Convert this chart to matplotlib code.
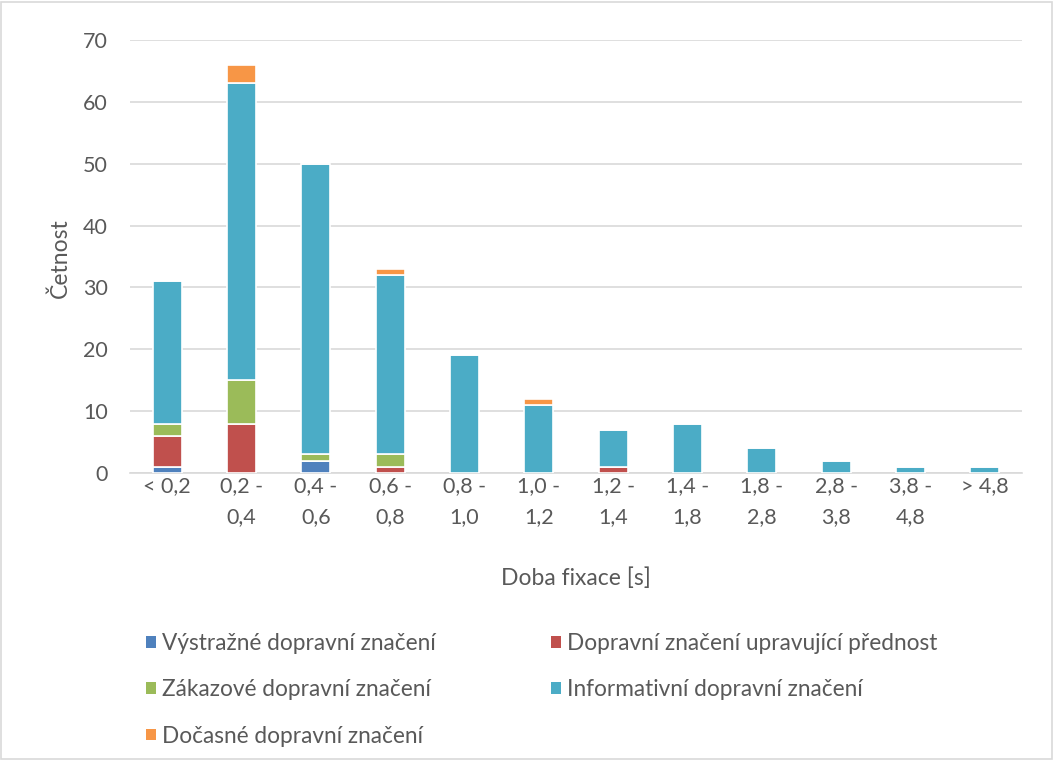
import matplotlib.pyplot as plt
import numpy as np
from matplotlib.patches import Rectangle, Patch

plt.rcParams['font.family'] = ['Lato', 'DejaVu Sans']

# categories (fixation duration bins)
categories = ['< 0,2', '0,2 -\n0,4', '0,4 -\n0,6', '0,6 -\n0,8', '0,8 -\n1,0', '1,0 -\n1,2',
              '1,2 -\n1,4', '1,4 -\n1,8', '1,8 -\n2,8', '2,8 -\n3,8', '3,8 -\n4,8', '> 4,8']

# counts per sign type
vystrazne = [1, 0, 2, 0, 0, 0, 0, 0, 0, 0, 0, 0]
prednost = [5, 8, 0, 1, 0, 0, 1, 0, 0, 0, 0, 0]
zakazove = [2, 7, 1, 2, 0, 0, 0, 0, 0, 0, 0, 0]
informativni = [23, 48, 47, 29, 19, 11, 6, 8, 4, 2, 1, 1]
docasne = [0, 3, 0, 1, 0, 1, 0, 0, 0, 0, 0, 0]

series = [
    ('Výstražné dopravní značení', vystrazne, '#4F81BD'),
    ('Dopravní značení upravující přednost', prednost, '#C0504D'),
    ('Zákazové dopravní značení', zakazove, '#9BBB59'),
    ('Informativní dopravní značení', informativni, '#4BACC6'),
    ('Dočasné dopravní značení', docasne, '#F79646'),
]

txt = '#595959'
fig = plt.figure(figsize=(10.54, 7.6), dpi=100)
ax = fig.add_axes([130 / 1054, 1 - 473 / 760, 892 / 1054, 433 / 760])

x = np.arange(len(categories))
bottom = np.zeros(len(categories))
handles = {}
for name, vals, col in series:
    vals = np.array(vals, dtype=float)
    ax.bar(x, vals, 0.39, bottom=bottom, color=col, edgecolor='white', linewidth=1.2, zorder=3)
    handles[name] = Patch(facecolor=col, edgecolor='none')
    bottom += vals

ax.set_xlim(-0.5, len(categories) - 0.5)
ax.set_ylim(0, 70)
ax.set_yticks(range(0, 71, 10))
ax.set_xticks(x)
ax.set_xticklabels(categories, linespacing=1.72)
ax.tick_params(length=0, labelsize=15.5, colors=txt, pad=2)
ax.tick_params(axis='y', pad=16)
ax.grid(axis='y', color='#D9D9D9', linewidth=1.2, zorder=0)
for s in ['top', 'right', 'left']:
    ax.spines[s].set_visible(False)
ax.spines['bottom'].set_color('#D9D9D9')
ax.spines['bottom'].set_linewidth(1.2)

ax.set_xlabel('Doba fixace [s]', fontsize=16.5, color=txt)
ax.xaxis.set_label_coords(0.5, -0.242)
ax.xaxis.label.set_va('center')
ax.set_ylabel('Četnost', fontsize=16.5, color=txt)
ax.yaxis.set_label_coords(-0.078, 0.497)
ax.yaxis.label.set_va('center')

names = [s[0] for s in series]
col1 = [names[0], names[2], names[4]]
col2 = [names[1], names[3]]
for cols, xpos in [(col1, 146), (col2, 551)]:
    fig.legend([handles[n] for n in cols], cols, loc='upper left',
               bbox_to_anchor=(xpos / 1054, 1 - 633 / 760), frameon=False,
               fontsize=16.3, labelcolor=txt, handlelength=0.42, handleheight=0.42,
               handletextpad=0.3, labelspacing=1.12, borderpad=0, borderaxespad=0)

fig.patches.append(Rectangle((0.001, 0.001), 0.997, 0.997, transform=fig.transFigure,
                             fill=False, edgecolor='#D9D9D9', linewidth=1.2))

fig.savefig('out.png', dpi=100)
